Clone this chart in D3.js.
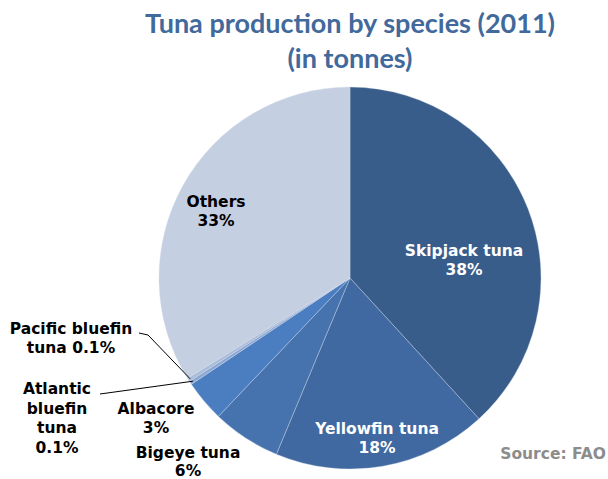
<!DOCTYPE html>
<html><head><meta charset="utf-8">
<script src="https://cdn.jsdelivr.net/npm/d3@7"></script>
<style>body{margin:0;background:#fff}svg{display:block}</style>
</head><body>
<svg id="c" width="608" height="479"></svg>
<script>
const categories = ["Skipjack tuna","Yellowfin tuna","Bigeye tuna","Albacore","Atlantic bluefin tuna","Pacific bluefin tuna","Others"];
const values = [38.2, 18.1, 5.8, 3.5, 0.3, 0.3, 33.8];
const labels = ["38%","18%","6%","3%","0.1%","0.1%","33%"];
const colors = ["#385D8A","#3F69A0","#4673AE","#4A7EC0","#8DA7D3","#A9BCDA","#C5CFE2"];

const svg = d3.select("#c");
const cx = 350, cy = 278, R = 191;
const g = svg.append("g").attr("transform",`translate(${cx},${cy})`);
const pie = d3.pie().sort(null).value(d=>d.v)(categories.map((c,i)=>({c,v:values[i],l:labels[i],col:colors[i]})));
const arc = d3.arc().innerRadius(0).outerRadius(R);
g.selectAll("path").data(pie).join("path").attr("d",arc).attr("fill",d=>d.data.col)
  .attr("stroke","#d5dcea").attr("stroke-width",0.6).attr("stroke-opacity",0.6);

const font = "'DejaVu Sans', Verdana, sans-serif";
// label placement (relative to pie centre)
const place = {
  "Skipjack tuna": {x:114,y:-18, lines:["Skipjack tuna","38%"], fill:"#fff"},
  "Yellowfin tuna": {x:27,y:160, lines:["Yellowfin tuna","18%"], fill:"#fff"},
  "Bigeye tuna": {x:-162,y:183, lines:["Bigeye tuna","6%"], fill:"#000", h:18},
  "Albacore": {x:-194,y:140, lines:["Albacore","3%"], fill:"#000"},
  "Atlantic bluefin tuna": {x:-293,y:140, lines:["Atlantic","bluefin","tuna","0.1%"], fill:"#000"},
  "Pacific bluefin tuna": {x:-279,y:60, lines:["Pacific bluefin","tuna 0.1%"], fill:"#000"},
  "Others": {x:-134,y:-67, lines:["Others","33%"], fill:"#000"}
};
pie.forEach(d=>{
  const p = place[d.data.c];
  const h = p.h || 19.5;
  const t = g.append("text").attr("text-anchor","middle").attr("font-family",font)
    .attr("font-weight","bold").attr("font-size","15.5px").attr("fill",p.fill);
  const n = p.lines.length;
  p.lines.forEach((s,i)=>{
    t.append("tspan").attr("x",p.x).attr("y",p.y + (i-(n-1)/2)*h + 5.5).text(s);
  });
});
// leader lines
function edgePt(d, r){const a=(d.startAngle+d.endAngle)/2;return [r*Math.sin(a),-r*Math.cos(a)];}
const pac = pie[5], atl = pie[4];
const pe = edgePt(pac, R-2), ae = edgePt(atl, R-3);
g.append("path").attr("d",`M${-211},${55} L${-202},${57} L${pe[0]},${pe[1]}`)
  .attr("fill","none").attr("stroke","#000").attr("stroke-width",1);
g.append("path").attr("d",`M${-250},${116} L${ae[0]},${ae[1]}`)
  .attr("fill","none").attr("stroke","#000").attr("stroke-width",1);

// title
const title = svg.append("text").attr("text-anchor","middle").attr("font-family","Lato, 'Open Sans', sans-serif")
  .attr("font-weight","bold").attr("font-size","27px").attr("fill","#41699C");
title.append("tspan").attr("x",350).attr("y",33).text("Tuna production by species (2011)");
title.append("tspan").attr("x",350).attr("y",68).text("(in tonnes)");
svg.append("text").attr("x",606).attr("y",459).attr("text-anchor","end").attr("font-family",font)
  .attr("font-weight","bold").attr("font-size","15.5px").attr("fill","#8c8c8c").text("Source: FAO");
</script>
</body></html>
